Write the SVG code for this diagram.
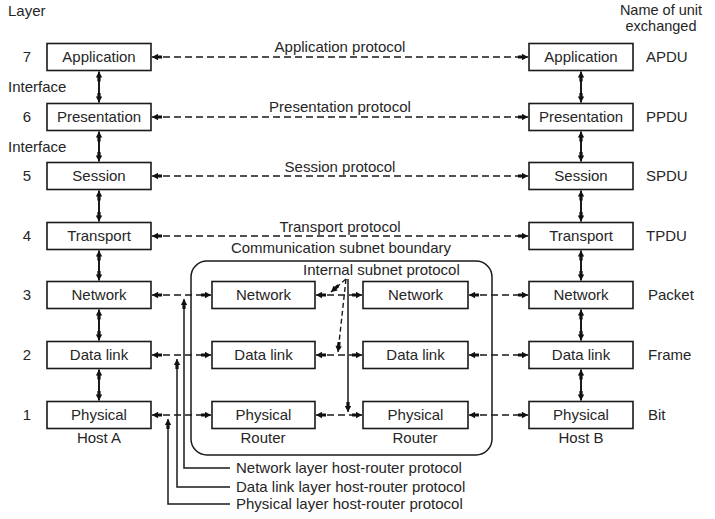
<svg xmlns="http://www.w3.org/2000/svg" width="715" height="519" viewBox="0 0 715 519">
<style>
text{font-family:"Liberation Sans",Arial,sans-serif;font-size:15px;fill:#262626}
.box rect{fill:#fff;stroke:#1a1a1a;stroke-width:1.6}
.box text{text-anchor:middle}
.c{text-anchor:middle}
.sm{font-size:14.5px}
.d{fill:none;stroke:#1a1a1a;stroke-width:1.4;stroke-dasharray:7 4;marker-start:url(#ah);marker-end:url(#ah)}
.v{fill:none;stroke:#1a1a1a;stroke-width:2;marker-start:url(#ah);marker-end:url(#ah)}
.se{fill:none;stroke:#1a1a1a;stroke-width:1.5;marker-end:url(#ah)}
.de{fill:none;stroke:#1a1a1a;stroke-width:1.4;stroke-dasharray:5 3;marker-end:url(#ah)}
</style>
<defs>
<marker id="ah" viewBox="0 -3.5 10 7" refX="10" refY="0" markerWidth="10" markerHeight="7" markerUnits="userSpaceOnUse" orient="auto-start-reverse">
<path d="M0,-1.6 H4 V-3.2 L10,0 L4,3.2 V1.6 H0 Z" fill="#111"/>
</marker>
</defs>
<rect width="715" height="519" fill="#fff"/>

<g id="labels">
<text x="8" y="16">Layer</text>
<text class="c sm" x="661" y="15">Name of unit</text>
<text class="c sm" x="661" y="31">exchanged</text>
<text x="8" y="92">Interface</text>
<text x="8" y="152">Interface</text>
<text class="c" x="27" y="62">7</text>
<text class="c" x="27" y="122">6</text>
<text class="c" x="27" y="181">5</text>
<text class="c" x="27" y="241">4</text>
<text class="c" x="27" y="300">3</text>
<text class="c" x="27" y="360">2</text>
<text class="c" x="27" y="420">1</text>
<text x="646" y="62">APDU</text>
<text x="646" y="122">PPDU</text>
<text x="646" y="181">SPDU</text>
<text x="646" y="241">TPDU</text>
<text x="648" y="300">Packet</text>
<text x="648" y="360">Frame</text>
<text x="648" y="420">Bit</text>
<text class="c" x="340" y="52">Application protocol</text>
<text class="c" x="340" y="112">Presentation protocol</text>
<text class="c" x="340" y="172">Session protocol</text>
<text class="c" x="340" y="232">Transport protocol</text>
<text class="c" x="341" y="253">Communication subnet boundary</text>
<text x="303" y="275">Internal subnet protocol</text>
<text class="c" x="99" y="443">Host A</text>
<text class="c" x="263" y="443">Router</text>
<text class="c" x="415" y="443">Router</text>
<text class="c" x="581" y="443">Host B</text>
<text x="236" y="473">Network layer host-router protocol</text>
<text x="236" y="492">Data link layer host-router protocol</text>
<text x="236" y="509">Physical layer host-router protocol</text>
</g>

<g id="subnet-boundary">
<rect x="191" y="261" width="301" height="194" rx="16" ry="16" fill="none" stroke="#1a1a1a" stroke-width="1.5"/>
</g>

<g id="connectors">
<line class="d" x1="152" y1="57" x2="528" y2="57"/>
<line class="d" x1="152" y1="117" x2="528" y2="117"/>
<line class="d" x1="152" y1="176" x2="528" y2="176"/>
<line class="d" x1="152" y1="236" x2="528" y2="236"/>
<line class="d" x1="152" y1="295" x2="211" y2="295"/>
<line class="d" x1="152" y1="355" x2="211" y2="355"/>
<line class="d" x1="152" y1="415" x2="211" y2="415"/>
<line class="d" x1="316" y1="295" x2="362" y2="295"/>
<line class="d" x1="316" y1="355" x2="362" y2="355"/>
<line class="d" x1="316" y1="415" x2="362" y2="415"/>
<line class="d" x1="469" y1="295" x2="528" y2="295" stroke-dasharray="6 3 6 3 40"/>
<line class="d" x1="469" y1="355" x2="528" y2="355" stroke-dasharray="6 3 6 3 40"/>
<line class="d" x1="469" y1="415" x2="528" y2="415" stroke-dasharray="6 3 6 3 40"/>
<line class="v" x1="99" y1="71.5" x2="99" y2="102.5"/>
<line class="v" x1="99" y1="131.5" x2="99" y2="161.5"/>
<line class="v" x1="99" y1="190.5" x2="99" y2="221.5"/>
<line class="v" x1="99" y1="250.5" x2="99" y2="280.5"/>
<line class="v" x1="99" y1="309.5" x2="99" y2="340.5"/>
<line class="v" x1="99" y1="369.5" x2="99" y2="400.5"/>
<line class="v" x1="581" y1="71.5" x2="581" y2="102.5"/>
<line class="v" x1="581" y1="131.5" x2="581" y2="161.5"/>
<line class="v" x1="581" y1="190.5" x2="581" y2="221.5"/>
<line class="v" x1="581" y1="250.5" x2="581" y2="280.5"/>
<line class="v" x1="581" y1="309.5" x2="581" y2="340.5"/>
<line class="v" x1="581" y1="369.5" x2="581" y2="400.5"/>
<polyline class="se" points="230,468 184,468 184,299"/>
<polyline class="se" points="230,487 177,487 177,359"/>
<polyline class="se" points="230,504 168,504 168,419"/>
<line class="de" x1="346" y1="279" x2="331" y2="292"/>
<line class="de" x1="346" y1="279" x2="338" y2="352"/>
<line class="se" x1="348" y1="279" x2="348" y2="412"/>
</g>

<g id="hostA-application" class="box"><rect x="47" y="43.5" width="104" height="27"/><text x="99" y="62">Application</text></g>
<g id="hostA-presentation" class="box"><rect x="47" y="103.5" width="104" height="27"/><text x="99" y="122">Presentation</text></g>
<g id="hostA-session" class="box"><rect x="47" y="162.5" width="104" height="27"/><text x="99" y="181">Session</text></g>
<g id="hostA-transport" class="box"><rect x="47" y="222.5" width="104" height="27"/><text x="99" y="241">Transport</text></g>
<g id="hostA-network" class="box"><rect x="47" y="281.5" width="104" height="27"/><text x="99" y="300">Network</text></g>
<g id="hostA-datalink" class="box"><rect x="47" y="341.5" width="104" height="27"/><text x="99" y="360">Data link</text></g>
<g id="hostA-physical" class="box"><rect x="47" y="401.5" width="104" height="27"/><text x="99" y="420">Physical</text></g>

<g id="router1-network" class="box"><rect x="212" y="281.5" width="103" height="27"/><text x="263.5" y="300">Network</text></g>
<g id="router1-datalink" class="box"><rect x="212" y="341.5" width="103" height="27"/><text x="263.5" y="360">Data link</text></g>
<g id="router1-physical" class="box"><rect x="212" y="401.5" width="103" height="27"/><text x="263.5" y="420">Physical</text></g>

<g id="router2-network" class="box"><rect x="363" y="281.5" width="105" height="27"/><text x="415.5" y="300">Network</text></g>
<g id="router2-datalink" class="box"><rect x="363" y="341.5" width="105" height="27"/><text x="415.5" y="360">Data link</text></g>
<g id="router2-physical" class="box"><rect x="363" y="401.5" width="105" height="27"/><text x="415.5" y="420">Physical</text></g>

<g id="hostB-application" class="box"><rect x="529" y="43.5" width="104" height="27"/><text x="581" y="62">Application</text></g>
<g id="hostB-presentation" class="box"><rect x="529" y="103.5" width="104" height="27"/><text x="581" y="122">Presentation</text></g>
<g id="hostB-session" class="box"><rect x="529" y="162.5" width="104" height="27"/><text x="581" y="181">Session</text></g>
<g id="hostB-transport" class="box"><rect x="529" y="222.5" width="104" height="27"/><text x="581" y="241">Transport</text></g>
<g id="hostB-network" class="box"><rect x="529" y="281.5" width="104" height="27"/><text x="581" y="300">Network</text></g>
<g id="hostB-datalink" class="box"><rect x="529" y="341.5" width="104" height="27"/><text x="581" y="360">Data link</text></g>
<g id="hostB-physical" class="box"><rect x="529" y="401.5" width="104" height="27"/><text x="581" y="420">Physical</text></g>
</svg>
